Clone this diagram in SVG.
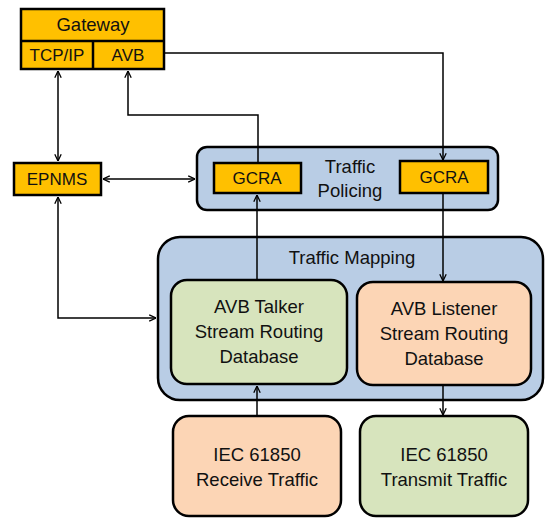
<svg xmlns="http://www.w3.org/2000/svg" width="547" height="518" viewBox="0 0 547 518">
<style>
.t{font-family:"Liberation Sans",Arial,sans-serif;font-size:18.5px;fill:#111;text-anchor:middle}
.s{font-size:17px}
.box{stroke:#000;stroke-width:2.5}
.or{fill:#FFC000}
.bl{fill:#B9CDE5}
.gr{fill:#D7E4BD}
.pe{fill:#FCD5B5}
.c{fill:none;stroke:#000;stroke-width:1.5}
</style>
<defs>
<marker id="a" viewBox="0 0 10 10" refX="9.5" refY="5" markerWidth="8" markerHeight="8" markerUnits="userSpaceOnUse" orient="auto-start-reverse">
<path d="M1,1 L9.5,5 L1,9" fill="none" stroke="#000" stroke-width="1.6"/>
</marker>
</defs>
<g id="traffic-mapping">
<rect class="box bl" x="158" y="237" width="385" height="163" rx="22"/>
<text class="t" x="352" y="264">Traffic Mapping</text>
</g>
<g id="traffic-policing">
<rect class="box bl" x="197" y="147" width="301" height="63" rx="10"/>
<text class="t" x="350" y="173">Traffic</text>
<text class="t" x="350" y="197">Policing</text>
</g>
<g id="gateway">
<rect class="box or" x="21" y="9" width="143" height="60"/>
<line x1="21" y1="41" x2="164" y2="41" stroke="#000" stroke-width="2.5"/>
<line x1="93" y1="41" x2="93" y2="69" stroke="#000" stroke-width="2.5"/>
<text class="t" x="93" y="31">Gateway</text>
<text class="t s" x="57" y="61">TCP/IP</text>
<text class="t s" x="128" y="61">AVB</text>
</g>
<g id="epnms">
<rect class="box or" x="14" y="163" width="87" height="32"/>
<text class="t s" x="57" y="185">EPNMS</text>
</g>
<g id="gcra1">
<rect class="box or" x="214" y="163" width="87" height="30"/>
<text class="t s" x="257" y="184">GCRA</text>
</g>
<g id="gcra2">
<rect class="box or" x="400" y="161" width="88" height="32"/>
<text class="t s" x="444" y="183">GCRA</text>
</g>
<g id="talker">
<rect class="box gr" x="171" y="280" width="176" height="104" rx="16"/>
<text class="t" x="259" y="313">AVB Talker</text>
<text class="t" x="259" y="338">Stream Routing</text>
<text class="t" x="259" y="363">Database</text>
</g>
<g id="listener">
<rect class="box pe" x="357" y="282" width="174" height="103" rx="16"/>
<text class="t" x="444" y="315">AVB Listener</text>
<text class="t" x="444" y="340">Stream Routing</text>
<text class="t" x="444" y="365">Database</text>
</g>
<g id="receive">
<rect class="box pe" x="173" y="416" width="168" height="100" rx="16"/>
<text class="t" x="257" y="461">IEC 61850</text>
<text class="t" x="257" y="486">Receive Traffic</text>
</g>
<g id="transmit">
<rect class="box gr" x="360" y="416" width="168" height="100" rx="16"/>
<text class="t" x="444" y="461">IEC 61850</text>
<text class="t" x="444" y="486">Transmit Traffic</text>
</g>
<g id="connectors">
<path class="c" d="M58,71 V161" marker-start="url(#a)" marker-end="url(#a)"/>
<path class="c" d="M258,162 V115 H128 V71" marker-end="url(#a)"/>
<path class="c" d="M165,53 H443 V160" marker-end="url(#a)"/>
<path class="c" d="M103,179 H195" marker-start="url(#a)" marker-end="url(#a)"/>
<path class="c" d="M58,197 V318 H156" marker-start="url(#a)" marker-end="url(#a)"/>
<path class="c" d="M257,279 V195" marker-end="url(#a)"/>
<path class="c" d="M443,194 V281" marker-end="url(#a)"/>
<path class="c" d="M257,415 V386" marker-end="url(#a)"/>
<path class="c" d="M443,386 V415" marker-end="url(#a)"/>
</g>
</svg>
